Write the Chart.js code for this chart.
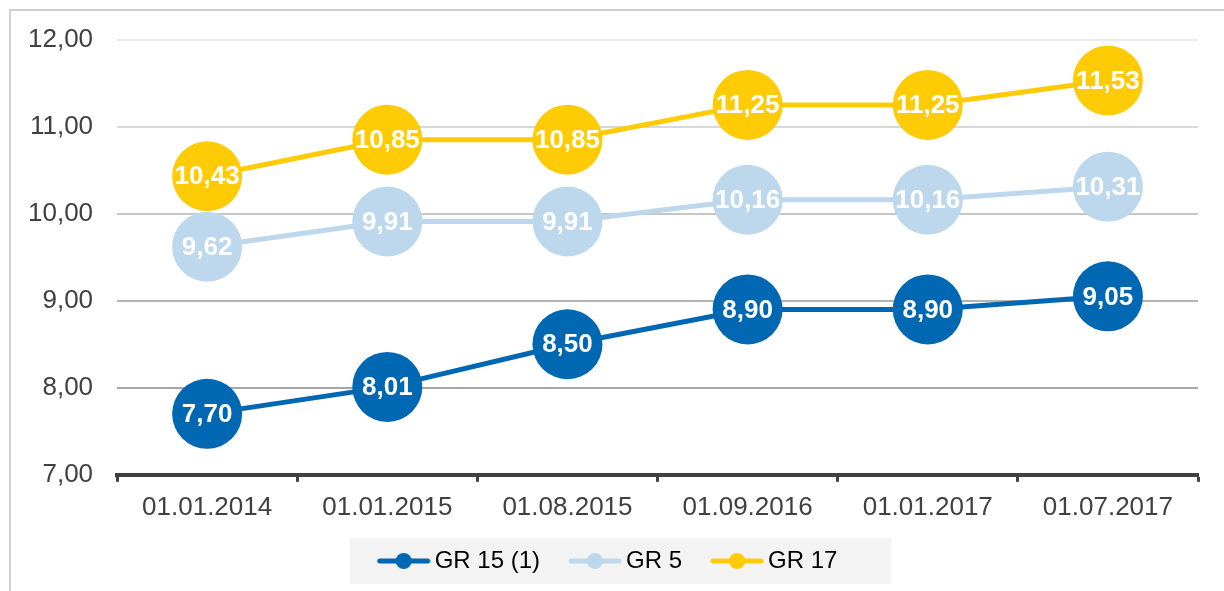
<!DOCTYPE html>
<html>
<head>
<meta charset="utf-8">
<script src="https://cdn.jsdelivr.net/npm/chart.js@4"></script>
<style>
  html, body { margin: 0; padding: 0; background: #fff; }
  #wrap { position: relative; width: 1224px; height: 591px; }
  #frame { position: absolute; left: 9px; top: 9px; right: -10px; bottom: -10px;
           border-left: 2px solid #d0d0d0; border-top: 2px solid #d0d0d0; }
  canvas { position: absolute; left: 0; top: 0; }
</style>
</head>
<body>
<div id="wrap">
  <div id="frame"></div>
  <canvas id="lineChart" width="1224" height="591"></canvas>
</div>
<script>
// Values
const dates = ['01.01.2014', '01.01.2015', '01.08.2015', '01.09.2016', '01.01.2017', '01.07.2017'];
const gr15 = [7.70, 8.01, 8.50, 8.90, 8.90, 9.05];
const gr5 = [9.62, 9.91, 9.91, 10.16, 10.16, 10.31];
const gr17 = [10.43, 10.85, 10.85, 11.25, 11.25, 11.53];
const seriesNames = ['GR 15 (1)', 'GR 5', 'GR 17'];
const seriesColors = ['#0067b2', '#bdd7ec', '#ffcb05'];

const FONT = '"Liberation Sans", Arial, sans-serif';
const fmt = v => v.toFixed(2).replace('.', ',');

// legend symbol: line with a dot, padded on the left so it sits close to the text
const LEGEND_PAD = 16;
const BOX_W = 74 - LEGEND_PAD;
const ICON_W = BOX_W + 16;
function legendIcon(color) {
  const c = document.createElement('canvas');
  c.width = ICON_W; c.height = 18;
  const g = c.getContext('2d');
  const x0 = ICON_W - 54;
  g.strokeStyle = color;
  g.lineWidth = 5;
  g.lineCap = 'round';
  g.beginPath();
  g.moveTo(x0 + 3, 9);
  g.lineTo(x0 + 51, 9);
  g.stroke();
  g.fillStyle = color;
  g.beginPath();
  g.arc(x0 + 27, 9, 8, 0, Math.PI * 2);
  g.fill();
  return c;
}

const gridColors = { 12: '#ebebeb', 11: '#d8d8d8', 10: '#c6c6c6', 9: '#b4b4b4', 8: '#a6a6a6' };

const valueLabels = {
  id: 'valueLabels',
  afterDatasetsDraw(chart) {
    const ctx = chart.ctx;
    ctx.save();
    ctx.font = 'bold 26px ' + FONT;
    ctx.fillStyle = '#ffffff';
    ctx.textAlign = 'center';
    ctx.textBaseline = 'middle';
    chart.data.datasets.forEach((ds, i) => {
      chart.getDatasetMeta(i).data.forEach((pt, j) => {
        ctx.fillText(fmt(ds.data[j]), pt.x, pt.y + 1);
      });
    });
    ctx.restore();
  }
};

const legendBox = {
  id: 'legendBox',
  beforeDraw(chart) {
    const boxes = chart.legend.legendHitBoxes;
    if (!boxes || !boxes.length) return;
    const first = boxes[0], last = boxes[boxes.length - 1];
    const cy = first.top + first.height / 2;
    const left = first.left + BOX_W - 73;
    const right = last.left + last.width + 54;
    const ctx = chart.ctx;
    ctx.save();
    ctx.fillStyle = '#f3f3f3';
    ctx.fillRect(left, cy - 23, right - left, 46);
    ctx.restore();
  }
};

const makeSet = (i, data) => ({
  label: seriesNames[i],
  data: data,
  borderColor: seriesColors[i],
  backgroundColor: seriesColors[i],
  borderWidth: 5,
  pointRadius: 35,
  pointHoverRadius: 35,
  pointBorderWidth: 0,
  pointStyle: 'circle',
  tension: 0,
  clip: false
});

const ctx = document.getElementById('lineChart').getContext('2d');
new Chart(ctx, {
  type: 'line',
  data: {
    labels: dates,
    datasets: [makeSet(0, gr15), makeSet(1, gr5), makeSet(2, gr17)]
  },
  options: {
    responsive: false,
    animation: false,
    layout: { autoPadding: false, padding: { left: 4, right: 26, top: 31, bottom: 8 } },
    scales: {
      x: {
        offset: true,
        grid: {
          offset: true,
          drawOnChartArea: false,
          drawTicks: true,
          tickLength: 7,
          tickWidth: 3,
          tickColor: '#404040'
        },
        border: { display: true, color: '#404040', width: 4 },
        ticks: { color: '#404040', font: { family: FONT, size: 26 }, padding: 10 }
      },
      y: {
        min: 7,
        max: 12,
        ticks: {
          stepSize: 1,
          color: '#404040',
          font: { family: FONT, size: 26 },
          padding: 24,
          callback: v => fmt(v)
        },
        grid: {
          drawTicks: false,
          lineWidth: 2,
          color: c => gridColors[c.tick.value] || 'rgba(0,0,0,0)'
        },
        border: { display: false }
      }
    },
    plugins: {
      tooltip: { enabled: false },
      legend: {
        position: 'bottom',
        labels: {
          usePointStyle: true,
          pointStyleWidth: BOX_W,
          padding: LEGEND_PAD,
          color: '#404040',
          font: { family: FONT, size: 24 },
          generateLabels: chart => chart.data.datasets.map((ds, i) => ({
            text: ds.label,
            pointStyle: legendIcon(seriesColors[i]),
            fillStyle: seriesColors[i],
            strokeStyle: seriesColors[i],
            lineWidth: 0,
            hidden: false,
            datasetIndex: i
          }))
        }
      }
    }
  },
  plugins: [legendBox, valueLabels]
});
</script>
</body>
</html>
